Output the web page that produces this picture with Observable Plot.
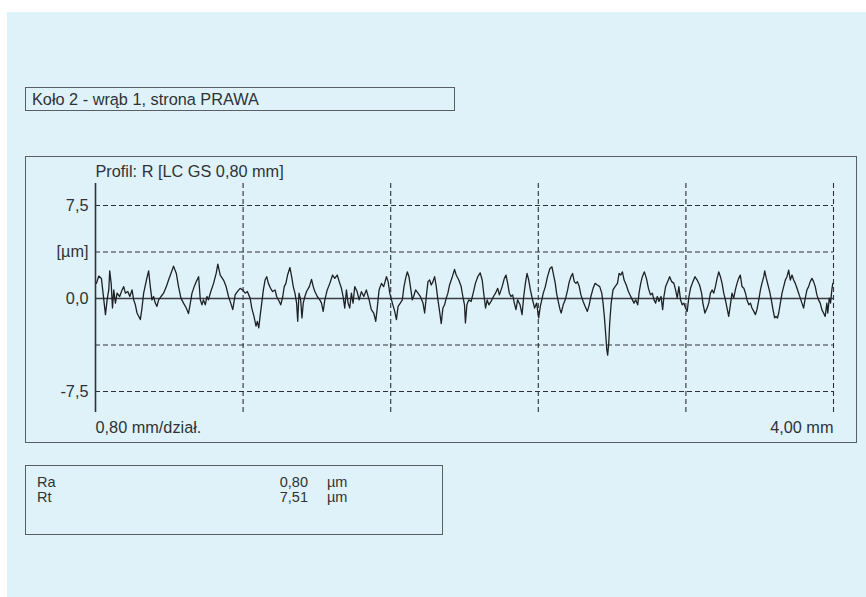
<!DOCTYPE html>
<html>
<head>
<meta charset="utf-8">
<script src="https://cdn.jsdelivr.net/npm/d3@7"></script>
<script src="https://cdn.jsdelivr.net/npm/@observablehq/plot@0.6"></script>
<style>
  body { margin: 0; font-family: "Liberation Sans", Arial, Helvetica, sans-serif; }
  #page { position: relative; width: 866px; height: 597px; background: #ffffff; overflow: hidden; }
  #bg { position: absolute; left: 7px; top: 12px; right: 0; bottom: 0; background: #dff2fa; }
  .box { position: absolute; box-sizing: border-box; border: 1.5px solid #5a5f63; }
  .txt { position: absolute; color: #2e3236; font-size: 16.3px; white-space: pre; line-height: 16px; }
  .stat { font-size: 14.5px; line-height: 14px; }
  #plot { position: absolute; left: 0; top: 0; }
</style>
</head>
<body>
<div id="page">
  <div id="bg"></div>
  <div class="box" style="left:25px;top:87px;width:430px;height:24px;"></div>
  <div class="txt" id="title" style="left:32px;top:91px;"></div>
  <div class="box" style="left:25px;top:156px;width:832px;height:287px;"></div>
  <div class="box" style="left:25px;top:465px;width:418px;height:70px;"></div>
  <div id="stats"></div>
  <div id="plot"></div>
</div>
<script>
// ---- texts ----
const titleText = "Koło 2 - wrąb 1, strona PRAWA";
const profileLabel = "Profil: R [LC GS 0,80 mm]";
const xScaleLabel = "0,80 mm/dział.";
const xEndLabel = "4,00 mm";
// y axis ticks (µm) and their labels
const yTicks = [7.5, 3.75, 0, -7.5];
const yTickLabels = ["7,5", "[µm]", "0,0", "-7,5"];
// horizontal dashed grid (µm) and vertical dashed grid (mm)
const yGrid = [7.5, 3.75, -3.75, -7.5];
const xGrid = [0.8, 1.6, 2.4, 3.2, 4.0];
// statistics
const statNames = ["Ra", "Rt"];
const statValues = ["0,80", "7,51"];
const statUnits = ["µm", "µm"];

// ---- roughness profile [mm, µm] ----
const profileA = [[0.005,1.22],[0.018,1.81],[0.032,1.62],[0.054,-1.30],[0.063,-0.11],[0.072,0.69],[0.077,2.23],[0.085,1.22],[0.092,-0.77],[0.099,0.69],[0.108,-0.37],[0.117,0.43],[0.131,0.16],[0.144,0.69],[0.153,0.96],[0.162,0.43],[0.175,0.56],[0.186,0.16],[0.198,0.69],[0.207,-0.11],[0.216,-0.51],[0.225,-1.17],[0.243,-1.70],[0.252,-0.77],[0.261,0.43],[0.276,1.49],[0.288,2.23],[0.297,0.96],[0.306,-0.11],[0.315,0.16],[0.324,-0.37],[0.333,-0.64],[0.342,-0.11],[0.355,0.16],[0.369,0.43],[0.384,0.96],[0.396,1.49],[0.409,2.02],[0.423,2.61],[0.438,2.02],[0.450,0.96],[0.463,0.03],[0.477,-0.37],[0.492,-0.77],[0.504,-1.22],[0.514,-0.37],[0.523,0.43],[0.535,0.96],[0.546,1.36],[0.559,1.76],[0.568,-0.11],[0.577,-0.51],[0.585,-0.11],[0.595,-0.51],[0.604,0.16],[0.612,-0.11],[0.625,0.56],[0.640,1.22],[0.654,2.02],[0.663,2.77],[0.676,1.89],[0.694,1.49],[0.708,0.96],[0.721,0.16],[0.733,-0.37],[0.744,-0.90],[0.757,0.29],[0.769,0.56],[0.784,0.82],[0.798,0.69],[0.811,0.43],[0.823,0.56],[0.838,0.03]];
const profileB = [[0.847,-0.77],[0.859,-1.44],[0.870,-2.23],[0.877,-1.84],[0.885,-2.37],[0.892,-1.44],[0.901,-0.37],[0.910,0.69],[0.919,1.49],[0.928,1.76],[0.937,1.22],[0.949,0.82],[0.960,0.56],[0.973,0.69],[0.982,0.16],[0.996,-0.24],[1.004,-0.51],[1.015,0.16],[1.023,0.96],[1.032,1.22],[1.041,1.89],[1.054,2.50],[1.063,1.76],[1.072,0.96],[1.081,0.43],[1.090,-0.37],[1.096,-1.84],[1.103,0.43],[1.112,-0.11],[1.119,-1.57],[1.126,-0.37],[1.135,0.16],[1.144,0.56],[1.159,0.96],[1.171,1.54],[1.180,0.96],[1.189,0.56],[1.202,0.16],[1.216,-0.11],[1.225,-0.37],[1.234,-1.04],[1.243,-0.11],[1.256,0.69],[1.270,1.22],[1.285,1.89],[1.297,1.62],[1.310,1.89],[1.321,1.36],[1.333,0.82],[1.342,0.16],[1.351,-0.77],[1.360,0.69],[1.369,-0.37],[1.378,-0.77],[1.387,0.43],[1.396,-0.37],[1.405,0.96],[1.418,0.56],[1.429,-0.11],[1.441,0.56],[1.454,0.16],[1.468,0.69],[1.483,-0.11],[1.495,-0.90],[1.508,-1.17],[1.519,-1.84],[1.528,-0.64],[1.537,0.69],[1.550,1.22],[1.562,0.96],[1.577,1.76],[1.586,1.36],[1.595,0.43]];
const profileC = [[1.609,-0.37],[1.622,-1.04],[1.631,-1.70],[1.640,-0.64],[1.652,-0.37],[1.663,-0.11],[1.672,0.96],[1.681,1.62],[1.690,2.15],[1.699,1.76],[1.707,0.96],[1.717,-0.11],[1.724,0.16],[1.735,0.69],[1.748,0.43],[1.761,0.16],[1.775,-0.37],[1.784,-1.17],[1.793,0.16],[1.802,1.36],[1.811,1.49],[1.820,1.09],[1.829,1.36],[1.838,1.76],[1.847,0.96],[1.856,-0.11],[1.865,-1.04],[1.874,-2.02],[1.883,-0.77],[1.892,-0.51],[1.901,0.03],[1.910,0.43],[1.919,1.09],[1.934,1.76],[1.946,2.34],[1.955,1.89],[1.969,1.49],[1.982,0.96],[1.991,0.16],[2.000,-0.51],[2.005,-1.97],[2.013,-0.51],[2.023,-0.11],[2.036,-0.24],[2.049,0.56],[2.059,1.22],[2.072,1.76],[2.085,2.07],[2.096,1.49],[2.103,0.56],[2.114,-0.77],[2.123,-0.11],[2.132,-0.51],[2.144,-0.24],[2.157,0.16],[2.168,0.43],[2.180,0.82],[2.189,0.29],[2.204,0.96],[2.216,1.62],[2.225,1.89],[2.234,1.22],[2.243,0.43],[2.252,0.16],[2.261,0.29],[2.270,-0.37],[2.279,-0.90],[2.288,-0.11],[2.301,-0.51],[2.312,-1.30],[2.321,0.16],[2.330,1.22],[2.339,2.02],[2.348,1.49],[2.357,0.69],[2.369,-0.11],[2.380,-0.77],[2.391,-0.37]];
const profileD = [[2.402,-1.57],[2.411,-0.64],[2.427,0.43],[2.438,0.96],[2.450,1.76],[2.463,2.42],[2.474,2.55],[2.481,2.02],[2.492,1.22],[2.499,0.43],[2.510,-0.37],[2.518,-0.90],[2.524,-1.17],[2.535,-0.51],[2.546,-0.11],[2.559,0.69],[2.568,1.36],[2.577,1.76],[2.586,2.02],[2.595,1.36],[2.604,1.22],[2.612,1.36],[2.622,0.96],[2.631,0.29],[2.643,-0.24],[2.654,-0.64],[2.666,-1.04],[2.676,-0.51],[2.685,0.16],[2.697,0.82],[2.708,1.22],[2.720,1.09],[2.733,0.96],[2.744,0.43],[2.751,-0.37],[2.758,-1.44],[2.766,-3.03],[2.771,-4.10],[2.776,-4.57],[2.782,-3.56],[2.787,-1.97],[2.795,-0.37],[2.805,0.69],[2.816,0.96],[2.829,1.22],[2.838,2.02],[2.847,1.89],[2.856,2.15],[2.865,1.49],[2.877,1.09],[2.888,0.56],[2.901,0.16],[2.910,-0.11],[2.919,-0.37],[2.928,-0.11],[2.939,-0.51],[2.946,0.43],[2.955,1.22],[2.964,1.76],[2.975,2.15],[2.986,1.62],[2.997,0.82],[3.008,0.29],[3.018,0.43],[3.027,-0.11],[3.036,-0.37],[3.045,0.16],[3.054,-0.24],[3.065,0.16],[3.074,-0.90],[3.081,0.16],[3.090,0.96],[3.101,1.36],[3.112,1.76],[3.123,1.36],[3.135,1.22],[3.144,0.69],[3.153,0.03],[3.162,0.96],[3.171,-0.11],[3.180,-0.51],[3.189,-0.37],[3.198,-0.77]];
const profileE = [[3.207,-1.04],[3.216,0.10],[3.225,0.82],[3.238,1.36],[3.249,1.76],[3.261,1.49],[3.274,1.09],[3.285,0.43],[3.292,-0.37],[3.303,-1.17],[3.315,-0.77],[3.324,-0.37],[3.333,0.43],[3.342,0.69],[3.351,0.43],[3.360,0.96],[3.369,1.62],[3.378,2.15],[3.387,1.76],[3.396,1.22],[3.405,0.43],[3.414,-0.11],[3.423,-0.77],[3.432,-1.44],[3.441,-0.51],[3.450,0.43],[3.459,0.03],[3.468,0.69],[3.477,1.22],[3.486,1.62],[3.495,1.89],[3.504,0.96],[3.514,0.82],[3.523,0.43],[3.531,-0.11],[3.541,-0.51],[3.550,-0.37],[3.558,-0.77],[3.568,-1.04],[3.577,-1.30],[3.585,-0.90],[3.595,-0.11],[3.604,0.69],[3.612,1.22],[3.622,1.76],[3.627,2.23],[3.636,1.62],[3.645,1.09],[3.654,0.56],[3.663,-0.11],[3.672,-0.90],[3.681,-1.57],[3.688,-1.44],[3.696,-1.57],[3.703,-1.17],[3.712,-0.37],[3.721,0.43],[3.730,0.96],[3.739,1.49],[3.748,1.76],[3.757,2.29],[3.766,1.49],[3.775,1.89],[3.784,1.49],[3.793,1.22],[3.802,0.82],[3.811,0.43],[3.820,0.03],[3.829,-0.37],[3.838,-0.77],[3.847,0.03],[3.856,0.69],[3.865,0.96],[3.874,1.36],[3.883,1.62],[3.892,1.36],[3.901,0.96],[3.910,0.29],[3.919,-0.11],[3.928,-0.37],[3.937,-0.90],[3.946,-1.17],[3.955,-1.44],[3.964,-0.37],[3.969,-1.17],[3.977,0.03],[3.984,-0.37],[3.991,0.69],[3.996,1.22]];

const profile = [...profileA, ...profileB, ...profileC, ...profileD, ...profileE]
  .map(([x, y]) => ({x, y}));

// ---- HTML texts ----
document.getElementById("title").textContent = titleText;
const stats = document.getElementById("stats");
statNames.forEach((n, i) => {
  const top = 475 + i * 14.5;
  const mk = (style, text) => {
    const d = document.createElement("div");
    d.className = "txt stat";
    Object.assign(d.style, style, { top: top + "px" });
    d.textContent = text;
    stats.appendChild(d);
  };
  mk({ left: "37px" }, n);
  mk({ right: (866 - 308) + "px" }, statValues[i]);
  mk({ left: "327px" }, statUnits[i]);
});

// ---- Plot ----
const ink = "#2e3236";
const dash = "5,3";
const fs = 16.3;
const chart = Plot.plot({
  width: 866,
  height: 597,
  marginLeft: 95,
  marginRight: 33,
  marginTop: 183,
  marginBottom: 185,
  style: { background: "transparent", fontFamily: "Liberation Sans, Arial, sans-serif", fontSize: fs + "px", color: ink },
  x: { domain: [0, 4], axis: null },
  y: { domain: [-9.194, 9.274], axis: null },
  marks: [
    Plot.ruleY(yGrid, { x1: 0, x2: 4.0, stroke: ink, strokeWidth: 1.1, strokeDasharray: dash }),
    Plot.ruleX(xGrid, { stroke: ink, strokeWidth: 1.1, strokeDasharray: dash }),
    Plot.ruleY([0], { x1: 0, x2: 4.0, stroke: "#3a3e42", strokeWidth: 1.3 }),
    Plot.ruleX([0], { stroke: ink, strokeWidth: 1.6 }),
    Plot.line(profile, { x: "x", y: "y", stroke: "#1e2124", strokeWidth: 1.3, strokeLinejoin: "round" }),
    Plot.axisY({ ticks: yTicks, tickFormat: d => yTickLabels[yTicks.indexOf(d)], tickSize: 0, tickPadding: 7, fontSize: fs, fill: ink, label: null }),
    Plot.text([profileLabel], { frameAnchor: "top-left", dy: -12, lineAnchor: "middle", text: d => d, textAnchor: "start", fontSize: fs, fill: ink }),
    Plot.text([xScaleLabel], { frameAnchor: "bottom-left", dy: 15, lineAnchor: "middle", text: d => d, textAnchor: "start", fontSize: fs, fill: ink }),
    Plot.text([xEndLabel], { frameAnchor: "bottom-right", dy: 15, lineAnchor: "middle", text: d => d, textAnchor: "end", fontSize: fs, fill: ink })
  ]
});
document.getElementById("plot").appendChild(chart);
</script>
</body>
</html>
